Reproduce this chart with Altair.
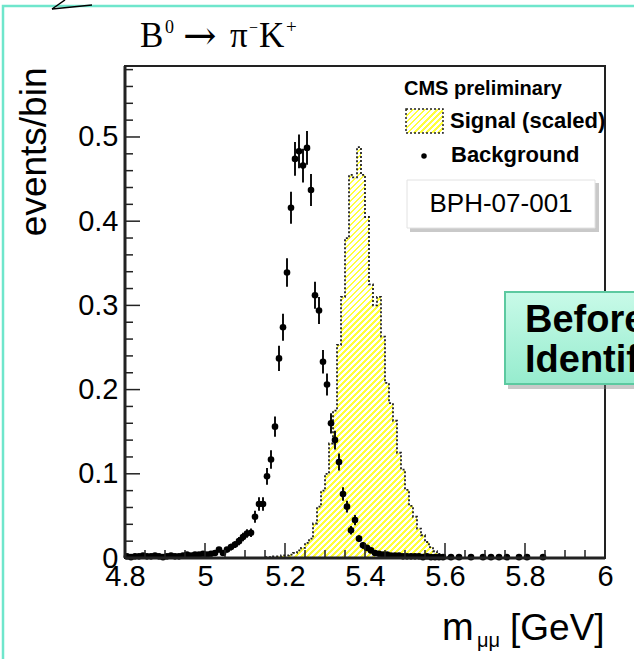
import altair as alt
import pandas as pd

# ---------------- data ----------------
# Signal (scaled) histogram: bin left edges (GeV, 0.01 wide) and heights
sig_edges = [5.15, 5.16, 5.17, 5.18, 5.19, 5.20, 5.21, 5.22, 5.23, 5.24,
             5.25, 5.26, 5.27, 5.28, 5.29, 5.30, 5.31, 5.32, 5.33, 5.34,
             5.35, 5.36, 5.37, 5.38, 5.39, 5.40, 5.41, 5.42, 5.43, 5.44,
             5.45, 5.46, 5.47, 5.48, 5.49, 5.50, 5.51, 5.52, 5.53, 5.54,
             5.55, 5.56, 5.57, 5.58, 5.59, 5.60, 5.61]
sig_h = [0.001, 0.001, 0.002, 0.002, 0.003, 0.003, 0.004, 0.006, 0.009, 0.012,
         0.018, 0.023, 0.041, 0.061, 0.080, 0.100, 0.136, 0.175, 0.253, 0.310,
         0.380, 0.455, 0.452, 0.488, 0.455, 0.405, 0.325, 0.300, 0.310, 0.263,
         0.208, 0.184, 0.163, 0.125, 0.105, 0.081, 0.062, 0.049, 0.035, 0.027,
         0.019, 0.013, 0.008, 0.005, 0.003, 0.001, 0.0]

# Background points: bin centres, values, errors
bkg_x = [4.805, 4.815, 4.825, 4.835, 4.845, 4.855, 4.865, 4.875, 4.885, 4.895,
         4.905, 4.915, 4.925, 4.935, 4.945, 4.955, 4.965, 4.975, 4.985, 4.995,
         5.005, 5.015, 5.025,
         5.035, 5.045, 5.055, 5.065, 5.075, 5.085, 5.095, 5.105, 5.115, 5.125,
         5.135, 5.145, 5.155, 5.165, 5.175, 5.185, 5.195, 5.205, 5.215, 5.225,
         5.235, 5.245, 5.255, 5.265, 5.275, 5.285, 5.295, 5.305, 5.315, 5.325,
         5.335, 5.345, 5.355, 5.365, 5.375, 5.385, 5.395, 5.405, 5.415, 5.425,
         5.435, 5.445, 5.455, 5.465, 5.475, 5.485, 5.495, 5.505, 5.515, 5.525,
         5.535, 5.545, 5.555, 5.565, 5.575, 5.585, 5.595,
         5.615, 5.635, 5.665, 5.695, 5.715, 5.735, 5.755, 5.785, 5.805, 5.845]
bkg_y = [0.002, 0.001, 0.002, 0.002, 0.003, 0.002, 0.002, 0.003, 0.002, 0.001,
         0.002, 0.003, 0.002, 0.002, 0.003, 0.004, 0.003, 0.004, 0.004, 0.005,
         0.004, 0.005, 0.006,
         0.010, 0.006, 0.010, 0.013, 0.016, 0.020, 0.025, 0.029, 0.030, 0.049,
         0.064, 0.064, 0.097, 0.117, 0.156, 0.237, 0.274, 0.339, 0.416, 0.474,
         0.483, 0.466, 0.487, 0.437, 0.312, 0.294, 0.233, 0.206, 0.160, 0.140,
         0.114, 0.076, 0.061, 0.033, 0.045, 0.023, 0.015, 0.012, 0.009, 0.006,
         0.005, 0.004, 0.004, 0.003, 0.003, 0.003, 0.002, 0.002, 0.002, 0.002,
         0.002, 0.001, 0.002, 0.001, 0.001, 0.001, 0.001,
         0.001, 0.001, 0.001, 0.001, 0.001, 0.001, 0.001, 0.001, 0.001, 0.001]
bkg_err = [0.002, 0.002, 0.002, 0.002, 0.002, 0.002, 0.002, 0.002, 0.002, 0.002,
           0.002, 0.002, 0.002, 0.002, 0.002, 0.002, 0.002, 0.002, 0.002, 0.002,
           0.002, 0.002, 0.002,
           0.003, 0.003, 0.003, 0.004, 0.004, 0.005, 0.005, 0.005, 0.005, 0.007,
           0.008, 0.008, 0.010, 0.011, 0.012, 0.015, 0.016, 0.017, 0.019, 0.020,
           0.020, 0.020, 0.020, 0.019, 0.016, 0.016, 0.014, 0.013, 0.012, 0.011,
           0.010, 0.008, 0.007, 0.005, 0.006, 0.004, 0.004, 0.003, 0.003, 0.003,
           0.002, 0.002, 0.002, 0.002, 0.002, 0.002, 0.002, 0.002, 0.002, 0.002,
           0.002, 0.001, 0.002, 0.001, 0.001, 0.001, 0.001,
           0.001, 0.001, 0.001, 0.001, 0.001, 0.001, 0.001, 0.001, 0.001, 0.001]
BIN_HALF = 0.005

# axis ticks / labels
x_major = [4.8, 5.0, 5.2, 5.4, 5.6, 5.8, 6.0]
x_minor = [4.85, 4.9, 4.95, 5.05, 5.1, 5.15, 5.25, 5.3, 5.35, 5.45, 5.5, 5.55,
           5.65, 5.7, 5.75, 5.85, 5.9, 5.95]
y_major = [0.0, 0.1, 0.2, 0.3, 0.4, 0.5]
y_minor = [0.02, 0.04, 0.06, 0.08, 0.12, 0.14, 0.16, 0.18, 0.22, 0.24, 0.26,
           0.28, 0.32, 0.34, 0.36, 0.38, 0.42, 0.44, 0.46, 0.48, 0.52, 0.54,
           0.56, 0.58]

y_title = "events/bin"

# ---------------- layout ----------------
X_DOM = [4.8, 6.0]
Y_DOM = [0.0, 0.5843]
PW, PH = 480, 492
PAD = {"left": 125, "top": 66, "right": 29, "bottom": 101}
SANS = "Liberation Sans"
SERIF = "Liberation Serif"

xs = alt.Scale(domain=X_DOM, nice=False, zero=False)
ys = alt.Scale(domain=Y_DOM, nice=False, zero=False)


def stripes(W, H, period=6.0, frac=0.42, c1="#ffff3c", c2="#ffffff"):
    n = max(1, int(round((W + H) / period)))
    stops = []
    for i in range(n):
        a, b, e = i / n, (i + frac) / n, (i + 1) / n
        stops += [alt.GradientStop(offset=a, color=c1),
                  alt.GradientStop(offset=b, color=c1),
                  alt.GradientStop(offset=b, color=c2),
                  alt.GradientStop(offset=e, color=c2)]
    k = (1 / H + 1 / W) / (1 / H ** 2 + 1 / W ** 2)
    return alt.Gradient(gradient="linear", stops=stops, x1=0, y1=0,
                        x2=k / H, y2=k / W)


px_x = PW / (X_DOM[1] - X_DOM[0])
px_y = PH / (Y_DOM[1] - Y_DOM[0])
sig_W = (max(sig_edges) - min(sig_edges)) * px_x
sig_H = max(sig_h) * px_y

sig_df = pd.DataFrame({"edge": sig_edges, "h": sig_h})
bkg_df = pd.DataFrame({"x": bkg_x, "y": bkg_y, "e": bkg_err})
bkg_df["lo"] = bkg_df["y"] - bkg_df["e"]
bkg_df["hi"] = bkg_df["y"] + bkg_df["e"]
bkg_df["xl"] = bkg_df["x"] - BIN_HALF
bkg_df["xr"] = bkg_df["x"] + BIN_HALF
one = pd.DataFrame({"d": [0]})

x_axis = alt.Axis(values=x_major, format=".1~f", ticks=False, tickSize=0,
                  grid=False, domain=False, labelFont=SANS, labelFontSize=29,
                  labelColor="black", labelPadding=4, labelOverlap=False,
                  labelFlush=False, title="")
y_axis = alt.Axis(values=y_major, format=".1~f", ticks=False, tickSize=0,
                  grid=False, domain=False, labelFont=SANS, labelFontSize=29,
                  labelColor="black", labelPadding=7, labelOverlap=False,
                  labelFlush=False, title=y_title, titleFont=SANS,
                  titleFontSize=37, titleFontWeight="normal",
                  titleColor="black", titleAngle=270, titleX=-80, titleY=1,
                  titleAlign="right", titleBaseline="alphabetic")


def X(f):
    return alt.X(f, scale=xs, axis=x_axis)


def Y(f):
    return alt.Y(f, scale=ys, axis=y_axis)


area = alt.Chart(sig_df).mark_area(
    interpolate="step-after", fill=stripes(sig_W, sig_H), strokeWidth=0
).encode(x=X("edge:Q"), y=Y("h:Q"))

outline = alt.Chart(sig_df).mark_line(
    interpolate="step-after", color="#222222", strokeWidth=1.8,
    strokeDash=[2, 2]
).encode(x=X("edge:Q"), y=Y("h:Q"))

ebar = alt.Chart(bkg_df).mark_rule(color="#111111", strokeWidth=2).encode(
    x=X("x:Q"), y=Y("lo:Q"), y2="hi:Q")
hbar = alt.Chart(bkg_df).mark_rule(color="#111111", strokeWidth=1.5).encode(
    x=X("xl:Q"), x2="xr:Q", y=Y("y:Q"))
pts = alt.Chart(bkg_df).mark_circle(color="#000000", size=44, opacity=1).encode(
    x=X("x:Q"), y=Y("y:Q"))

# inward ticks
xt_major = alt.Chart(pd.DataFrame({"v": x_major})).mark_rule(
    color="#222222", strokeWidth=1.5).encode(
    x=X("v:Q"), y=alt.value(PH), y2=alt.value(PH - 15))
xt_minor = alt.Chart(pd.DataFrame({"v": x_minor})).mark_rule(
    color="#222222", strokeWidth=1.5).encode(
    x=X("v:Q"), y=alt.value(PH), y2=alt.value(PH - 8))
yt_major = alt.Chart(pd.DataFrame({"v": y_major})).mark_rule(
    color="#222222", strokeWidth=1.5).encode(
    y=Y("v:Q"), x=alt.value(0), x2=alt.value(15))
yt_minor = alt.Chart(pd.DataFrame({"v": y_minor})).mark_rule(
    color="#222222", strokeWidth=1.5).encode(
    y=Y("v:Q"), x=alt.value(0), x2=alt.value(8))

# thicker left / bottom axis lines
left_line = alt.Chart(one).mark_rule(color="#222222", strokeWidth=3).encode(
    x=alt.value(0), y=alt.value(0), y2=alt.value(PH))
bottom_line = alt.Chart(one).mark_rule(color="#222222", strokeWidth=3).encode(
    x=alt.value(0), x2=alt.value(PW), y=alt.value(PH))


def text(t, x, y, size, font=SANS, weight="normal", align="left",
         baseline="alphabetic", color="black"):
    return alt.Chart(one).mark_text(
        text=t, font=font, fontSize=size, fontWeight=weight, align=align,
        baseline=baseline, color=color).encode(x=alt.value(x), y=alt.value(y))


def box(x, x2, y, y2, **kw):
    return alt.Chart(one).mark_rect(**kw).encode(
        x=alt.value(x), x2=alt.value(x2), y=alt.value(y), y2=alt.value(y2))


# title  B^0 -> pi^- K^+
t_B = text("B", 15, -19, 35, font=SERIF)
t_0 = text("0", 40, -33, 18, font=SERIF)
t_arr = text("→", 58, -17, 40, font="DejaVu Serif")
t_pi = text("π", 105, -19, 35, font=SERIF)
t_m = text("−", 124, -33, 16, font=SERIF)
t_K = text("K", 134, -19, 35, font=SERIF)
t_p = text("+", 161, -33, 19, font=SERIF)

# x title
xt_m = text("m", 317, 574, 38)
xt_sub = text("μμ", 352, 581, 20)
xt_gev = text("[GeV]", 385, 574, 37)

# legend
leg_cms = text("CMS preliminary", 279, 29, 20, weight="bold")
leg_sig_box = box(281, 318, 43, 67, fill=stripes(37, 24, period=6.0),
                  stroke="#222222", strokeWidth=1.5, strokeDash=[2, 2])
leg_sig = text("Signal (scaled)", 325, 62, 22, weight="bold")
leg_dot = alt.Chart(one).mark_circle(color="black", size=30, opacity=1).encode(
    x=alt.value(299), y=alt.value(90))
leg_bkg = text("Background", 326, 96, 22, weight="bold")

# BPH box
bph_shadow = box(285, 474, 117, 166, fill="#888888", opacity=0.45)
bph_box = box(282, 470, 114, 162, fill="white", stroke="#e2e2e2",
              strokeWidth=1)
bph_txt = text("BPH-07-001", 376, 146, 26, align="center")

# slide decorations
green_grad = alt.Gradient(gradient="linear", x1=0, y1=0, x2=0, y2=1,
                          stops=[alt.GradientStop(offset=0, color="#c8fae8"),
                                 alt.GradientStop(offset=1, color="#96ecce")])
g_shadow = box(383, 700, 231, 323, fill="#777777", opacity=0.4)
g_box = box(380, 700, 226, 318, fill=green_grad, stroke="#5cc9a0",
            strokeWidth=2)
g_t1 = text("Before", 400, 266, 38, weight="bold")
g_t2 = text("Identification", 400, 306, 38, weight="bold")

frame = box(-122, 700, -60, 700, fill="transparent", stroke="#6fe6cc",
            strokeWidth=2.5)
call1 = alt.Chart(one).mark_rule(color="black", strokeWidth=1.5).encode(
    x=alt.value(-73), x2=alt.value(-60), y=alt.value(-57), y2=alt.value(-66))
call2 = alt.Chart(one).mark_rule(color="black", strokeWidth=1.5).encode(
    x=alt.value(-73), x2=alt.value(-33), y=alt.value(-57), y2=alt.value(-61))

chart = alt.layer(
    area, outline, ebar, hbar, pts,
    xt_major, xt_minor, yt_major, yt_minor, left_line, bottom_line,
    t_B, t_0, t_arr, t_pi, t_m, t_K, t_p,
    xt_m, xt_sub, xt_gev,
    leg_cms, leg_sig_box, leg_sig, leg_dot, leg_bkg,
    bph_shadow, bph_box, bph_txt,
    g_shadow, g_box, g_t1, g_t2,
    frame, call1, call2,
).properties(
    width=PW, height=PH,
    autosize=alt.AutoSizeParams(type="none"),
    padding=PAD,
    background="white",
).configure_view(stroke="#222222", strokeWidth=2)

chart.save("out.html", embed_options={"renderer": "svg", "actions": False})
